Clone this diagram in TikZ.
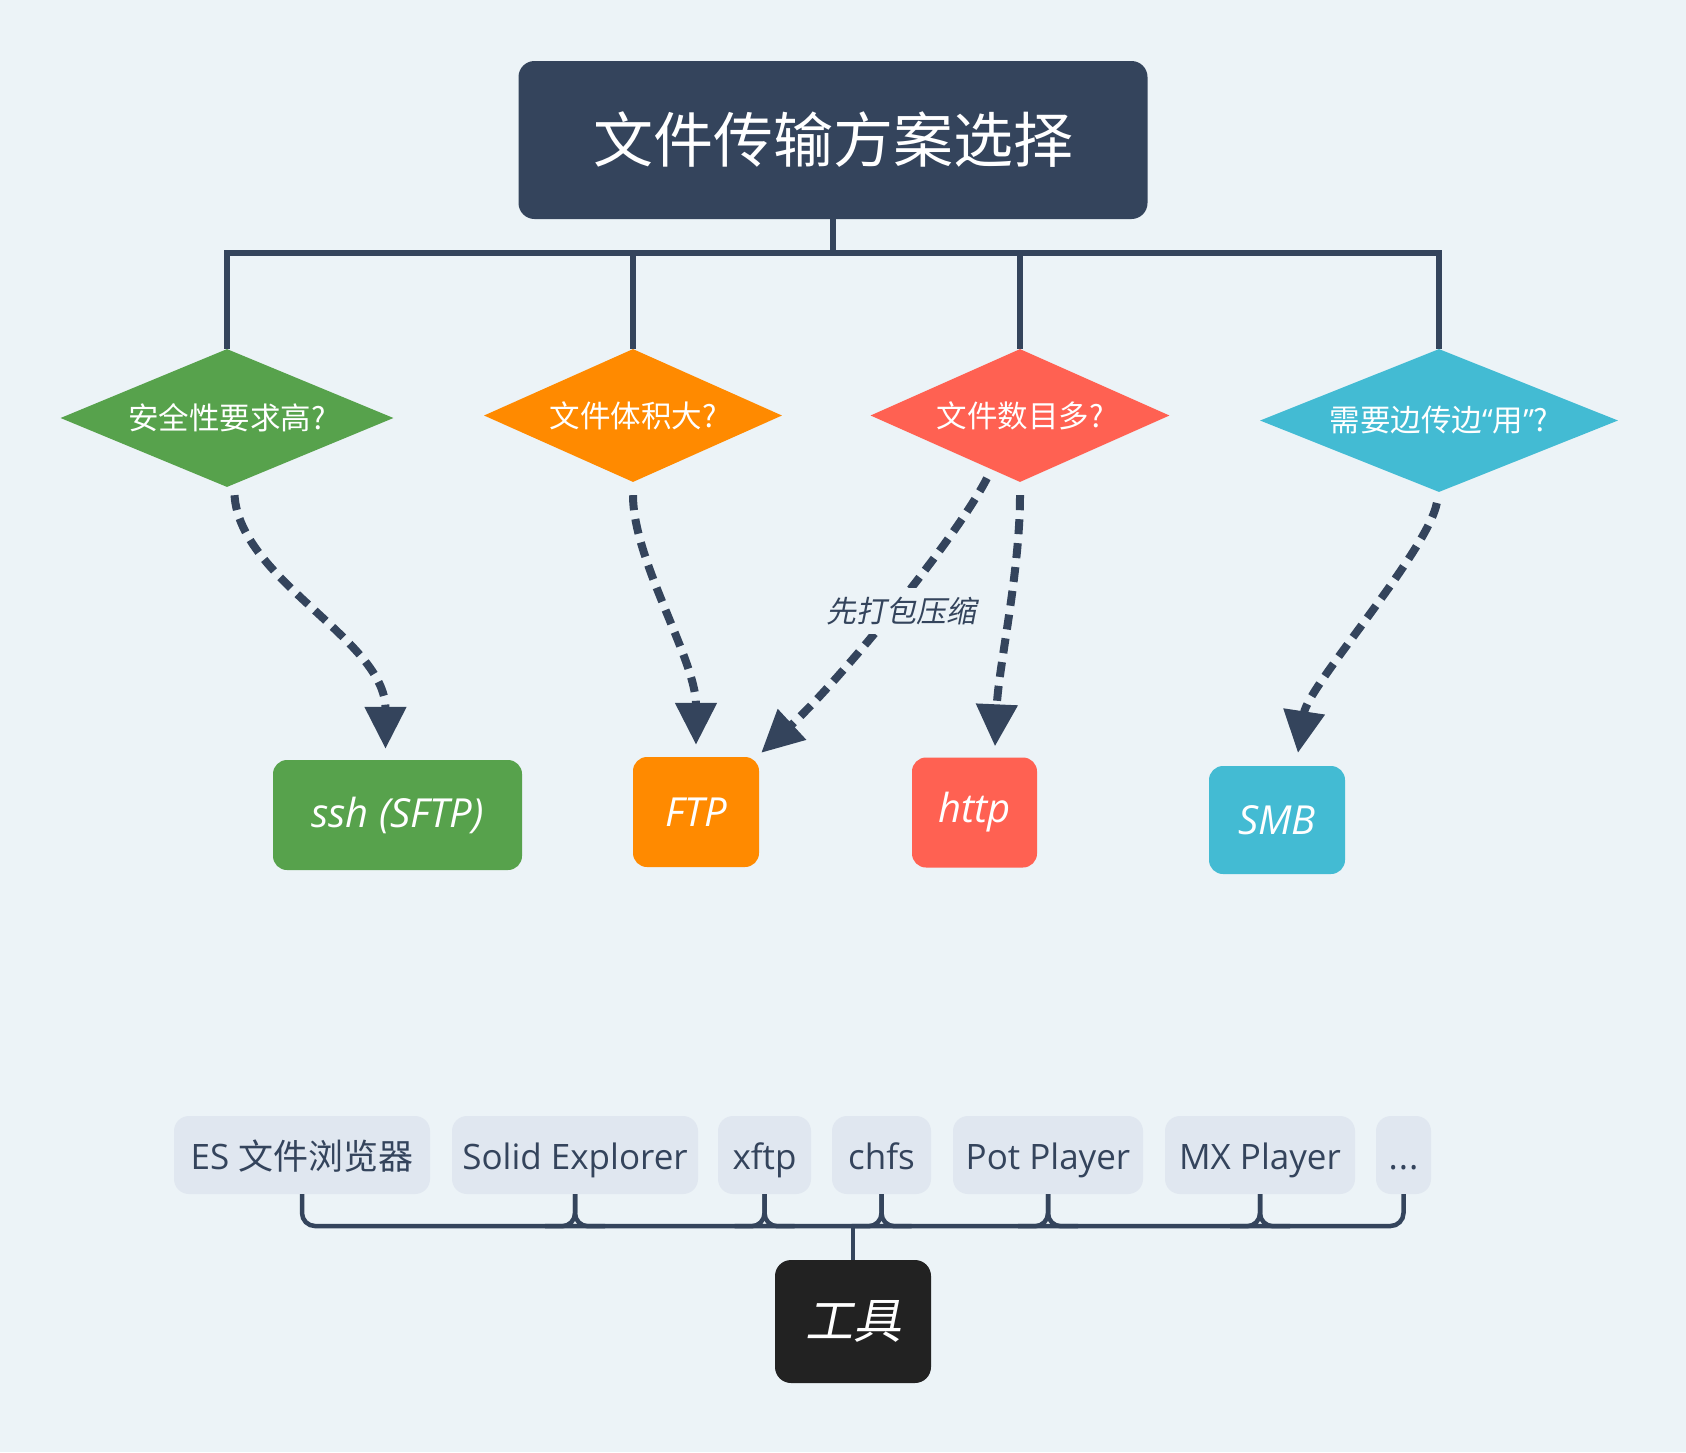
\documentclass[tikz,border=0pt]{standalone}
\usepackage{fontspec}
\setmainfont{Open Sans}
\newfontfamily\cjk{Noto Sans CJK SC}
\newfontfamily\cjkit{Noto Sans CJK SC}[FakeSlant=0.2]
\usetikzlibrary{shapes.geometric,arrows.meta}
\definecolor{bg}{HTML}{ECF3F7}
\definecolor{dark}{HTML}{34445C}
\definecolor{cgreen}{HTML}{57A24C}
\definecolor{corange}{HTML}{FF8A00}
\definecolor{cred}{HTML}{FF6152}
\definecolor{ccyan}{HTML}{43BBD3}
\definecolor{tool}{HTML}{E0E7F0}
\definecolor{blackbox}{HTML}{222222}
\tikzset{
  dia/.style={diamond, aspect=2.4, inner sep=0pt, text=white, font=\cjk\fontsize{30.5}{36}\selectfont},
  res/.style={rounded corners=14pt, inner sep=0pt, minimum height=110pt, text=white, font=\itshape\fontsize{40}{48}\selectfont},
  toolbox/.style={fill=tool, rounded corners=15pt, inner sep=0pt, minimum height=78pt, text height=34pt, text depth=6pt, text=dark, font=\fontsize{35}{42}\selectfont},
  conn/.style={draw=dark, line width=6pt, line join=miter},
  br/.style={draw=dark, line width=4.5pt},
  arr/.style={draw=dark, line width=8pt, dash pattern=on 15pt off 9pt, -{Triangle[length=42pt,width=40pt]}},
}
\begin{document}
\begin{tikzpicture}[x=1pt,y=-1pt]
\fill[bg] (0,0) rectangle (1686,1452);
\useasboundingbox (0,0) rectangle (1686,1452);

% title
\node[fill=dark, rounded corners=16pt, minimum width=629pt, minimum height=158pt, inner sep=0pt, text=white, font=\cjk\fontsize{60}{72}\selectfont] (title) at (833,140) {文件传输方案选择};

% diamonds
\node[dia, fill=cgreen, minimum width=333pt, minimum height=138pt] (d1) at (227,418) {安全性要求高?};
\node[dia, fill=corange, minimum width=298pt, minimum height=133pt] (d2) at (633,415.5) {文件体积大?};
\node[dia, fill=cred, minimum width=299pt, minimum height=133pt] (d3) at (1020,415.5) {文件数目多?};
\node[dia, fill=ccyan, minimum width=358pt, minimum height=143pt] (d4) at (1439,420.5) {需要边传边{\fontspec{Open Sans}“}用{\fontspec{Open Sans}”}?};

% title connectors
\coordinate (bus) at (833,253);
\draw[conn] (title.south) -- (bus);
\draw[conn] (bus) -| (d1.north);
\draw[conn] (bus) -| (d2.north);
\draw[conn] (bus) -| (d3.north);
\draw[conn] (bus) -| (d4.north);

% results
\node[res, fill=cgreen, minimum width=249pt] (ssh) at (397.5,815) {ssh (SFTP)};
\node[res, fill=corange, minimum width=126pt] (ftp) at (696,812) {FTP};
\node[res, fill=cred, minimum width=125pt] (http) at (974.5,812.5) {http};
\node[res, fill=ccyan, minimum width=136pt, minimum height=108pt] (smb) at (1277,820) {SMB};

% arrows
\draw[arr, shorten <=8pt, shorten >=11pt] ([xshift=7pt]d1.south) .. controls +(6,93) and +(0,-120) .. ([xshift=-12pt]ssh.north);
\draw[arr, shorten <=13pt, shorten >=12pt] (d2.south) .. controls +(0,78) and +(0,-97) .. (ftp.north);
\draw[arr] ([xshift=-33pt,yshift=4pt]d3.south) .. controls +(-32,62) and +(79,-73) .. ([xshift=2pt,yshift=4pt]ftp.north east);
\draw[arr, shorten <=13pt, shorten >=11pt] (d3.south) .. controls +(0,90) and +(4,-90) .. ([xshift=20pt]http.north);
\draw[arr, shorten <=11pt, shorten >=13pt] (d4.south) .. controls +(-12,60) and +(12,-80) .. ([xshift=19pt]smb.north);
\node[fill=bg, inner xsep=3pt, inner ysep=9pt, text=dark, font=\cjkit\fontsize{30}{36}\selectfont] (lbl) at (901,611) {先打包压缩};

% tools
\node[toolbox, minimum width=256pt] (t1) at (302,1155) {ES {\cjk 文件浏览器}};
\node[toolbox, minimum width=246pt] (t2) at (575,1155) {Solid Explorer};
\node[toolbox, minimum width=93pt] (t3) at (764.5,1155) {xftp};
\node[toolbox, minimum width=99pt] (t4) at (881.5,1155) {chfs};
\node[toolbox, minimum width=190pt] (t5) at (1048,1155) {Pot Player};
\node[toolbox, minimum width=190pt] (t6) at (1260,1155) {MX Player};
\node[toolbox, minimum width=55pt] (t7) at (1403.5,1155) {.\kern1pt.\kern1pt.};

\node[fill=blackbox, rounded corners=16pt, minimum width=156pt, minimum height=123pt, inner sep=0pt, text=white, font=\cjkit\fontsize{48}{56}\selectfont] (tools) at (853,1321.5) {工具};

\coordinate (tb) at (853,1226);
\draw[br, rounded corners=13pt] (t1.south) |- (tb) -| (t7.south);
\foreach \t in {t2,t3,t4,t5,t6}{
  \draw[br, rounded corners=13pt] (\t.south) ++(-30,32) -| (\t.south);
  \draw[br, rounded corners=13pt] (\t.south) ++(30,32) -| (\t.south);
}
\draw[br] (tb) -- (tools.north);
\end{tikzpicture}
\end{document}
